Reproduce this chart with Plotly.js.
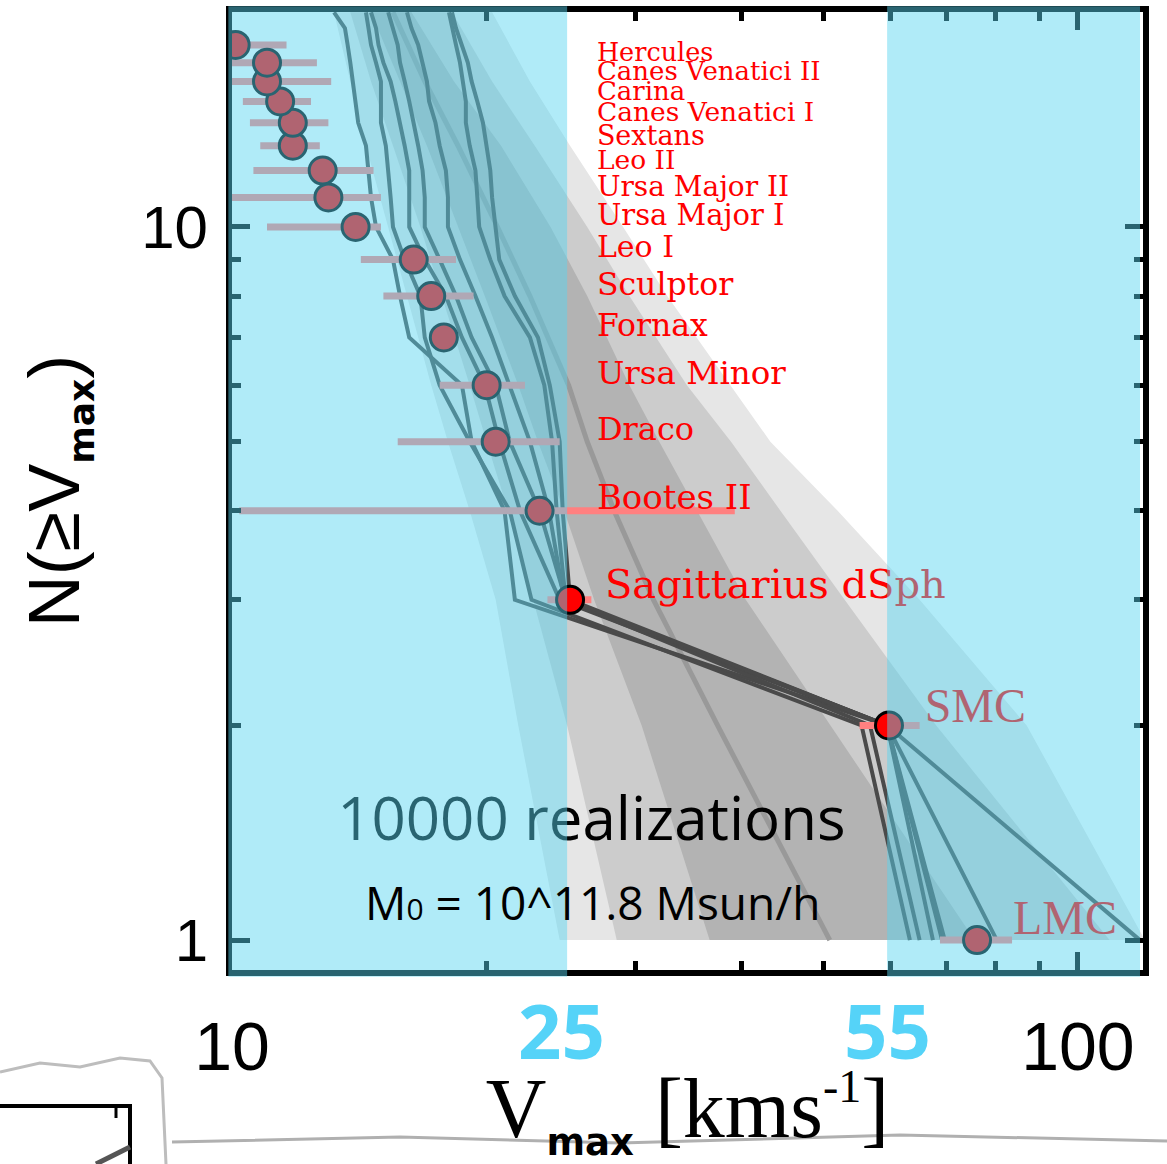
<!DOCTYPE html>
<html>
<head>
<meta charset="utf-8">
<script src="https://cdn.plot.ly/plotly-3.0.1.min.js"></script>
<style>
  html, body { margin: 0; padding: 0; background: #ffffff; }
  #chart { width: 1167px; height: 1164px; }
</style>
</head>
<body>
<div id="chart"></div>
<script>
// Milky Way satellites ranked by maximum circular velocity (km/s)
const rank = [1, 2, 3, 4, 5, 6, 7, 8, 9, 10, 11, 12, 13, 14, 15, 16, 17, 18];
const satNames = ['LMC', 'SMC', 'Sagittarius dSph', 'Bootes II', 'Draco', 'Ursa Minor', 'Fornax',
  'Sculptor', 'Leo I', 'Ursa Major I', 'Ursa Major II', 'Leo II', 'Sextans', 'Canes Venatici I',
  'Carina', 'Canes Venatici II', 'Hercules', ''];
const vmax     = [76.0, 59.8, 25.1, 23.1, 20.5, 20.0, 17.8, 17.2, 16.4, 14.0, 13.0, 12.8, 11.8, 11.8, 11.4, 11.0, 11.0, 10.1];
const vmaxLow  = [68.7, 55.2, 23.6, 10.2, 15.7, 17.6, 17.4, 15.1, 14.2, 11.0, 9.9, 10.6, 10.8, 10.5, 10.3, 9.9, 9.9, 9.9];
const vmaxHigh = [83.6, 65.0, 26.6, 39.3, 24.4, 22.2, 18.3, 19.3, 18.4, 15.0, 15.0, 14.7, 12.7, 13.0, 12.4, 13.1, 12.6, 11.6];

// Percentile envelopes of N(>=Vmax) over the subhalo realizations
const bandN    = [1, 2, 3, 4, 5, 6, 8, 10, 13, 16, 20];
const band3Lo  = [24.4, 21.8, 20.5, 19.1, 18.0, 17.2, 16.1, 15.3, 14.4, 13.8, 13.2];
const band3Hi  = [120, 87, 65, 52, 43.3, 38.8, 32.7, 29.0, 25.1, 22.5, 20.3];
const band2Lo  = [28.5, 24.9, 22.7, 21.2, 20.0, 19.1, 17.7, 16.7, 15.5, 14.6, 13.8];
const band2Hi  = [109, 68, 53, 44.5, 38.9, 34.5, 29.5, 26.3, 22.8, 20.3, 18.2];
const band1Lo  = [36.7, 30.5, 26.8, 24.7, 23.0, 21.8, 19.9, 18.5, 17.0, 15.8, 14.6];
const band1Hi  = [75.5, 51.0, 40.5, 35.5, 32.0, 29.5, 26.3, 23.8, 20.8, 18.3, 16.3];
const medianV  = [50.9, 37.5, 31.5, 28.3, 26.3, 25.0, 22.5, 20.6, 18.5, 16.9, 15.5];

// Individual realizations: Vmax of the N-th largest subhalo, N = 1..20
const realN = [1, 2, 3, 4, 5, 6, 7, 8, 9, 10, 11, 12, 13, 14, 15, 16, 17, 18, 19, 20];
const real1 = [69.1, 59.5, 21.6, 21.0, 19.2, 18.7, 16.2, 15.8, 15.5, 14.8, 14.6, 14.5, 14.4, 14.1, 14.0, 13.9, 13.8, 13.7, 13.6, 13.2];
const real2 = [63.3, 55.5, 22.6, 21.3, 19.1, 17.6, 16.9, 16.7, 16.0, 15.5, 15.4, 15.3, 15.2, 15.0, 15.0, 15.0, 14.8, 14.6, 14.5, 14.4];
const real3 = [67.4, 59.5, 24.4, 21.9, 20.7, 19.9, 18.7, 17.9, 16.9, 16.2, 16.2, 16.2, 16.0, 15.8, 15.6, 15.4, 15.1, 14.9, 14.8, 14.6];
const real4 = [80.2, 59.5, 24.8, 23.1, 21.3, 20.5, 19.2, 18.4, 17.6, 16.9, 16.9, 16.8, 16.6, 16.4, 16.2, 16.0, 15.8, 15.7, 15.5, 15.3];
const real5 = [65.0, 56.8, 24.7, 23.7, 22.5, 21.3, 20.3, 19.4, 18.6, 18.0, 18.0, 17.9, 17.6, 17.4, 17.1, 17.0, 16.8, 16.6, 16.3, 16.1];
const real6 = [118.4, 59.5, 24.8, 24.2, 23.9, 23.4, 22.5, 21.0, 20.2, 19.6, 19.5, 19.4, 19.1, 18.9, 18.9, 18.75, 18.6, 18.4, 18.2, 18.05];
const real7 = [69.6, 59.5, 25.1, 24.6, 24.4, 23.75, 23.0, 21.6, 20.7, 20.5, 20.3, 20.2, 20.0, 19.8, 19.5, 19.2, 19.0, 18.7, 18.4, 18.2];

// Unshaded velocity window: edges (km/s) and the marks written under them
const windowEdges  = [24.9, 59.5];
const windowLabels = ['25', '55'];
const xTicks = [10, 100];
const yTicks = [1, 10];

// ---- label styling (per rank) ----
const labelAnchorV = [83.8, 65.9, 27.6, 27.0, 27.0, 27.0, 27.0, 27.0, 27.0, 27.0, 27.0, 27.0, 27.0, 27.0, 27.0, 27.0, 27.0];
const labelLift    = [1.06, 1.05, 1.04, 1.035, 1.032, 1.03, 1.031, 1.03, 1.032, 1.029, 1.028, 1.028, 1.025, 1.026, 1.025, 1.027, 1.025];
const labelSize    = [48, 48, 40, 34, 32, 32.5, 31.5, 31.5, 30, 29, 28, 26.5, 27, 26.5, 26, 26, 25.5];

const xRange = [Math.log10(10), Math.log10(119.4)];
const yRange = [Math.log10(0.908), Math.log10(20.02)];
const xPaper = v => (Math.log10(v) - xRange[0]) / (xRange[1] - xRange[0]);

function bandTrace(lo, hi, color) {
  return {
    x: lo.concat(hi.slice().reverse()),
    y: bandN.concat(bandN.slice().reverse()),
    mode: 'lines', fill: 'toself', fillcolor: color,
    line: { width: 0 }, hoverinfo: 'skip'
  };
}

const traces = [];
traces.push(bandTrace(band3Lo, band3Hi, '#e6e6e6'));
traces.push(bandTrace(band2Lo, band2Hi, '#cccccc'));
traces.push(bandTrace(band1Lo, band1Hi, '#b3b3b3'));
traces.push({ x: medianV, y: bandN, mode: 'lines', line: { color: '#999999', width: 5 } });

[real1, real2, real3, real4, real5, real6, real7].forEach(r => {
  traces.push({ x: r, y: realN, mode: 'lines', line: { color: '#4a4a4a', width: 4 } });
});

// Observed satellites with velocity uncertainties
traces.push({
  x: vmax, y: rank, mode: 'markers',
  marker: { size: 27, color: '#ff0000', line: { color: '#000000', width: 3 } },
  error_x: {
    type: 'data', symmetric: false,
    array: vmax.map((v, i) => vmaxHigh[i] - v),
    arrayminus: vmax.map((v, i) => v - vmaxLow[i]),
    color: '#ff8080', thickness: 7, width: 0
  }
});

// Names next to each satellite
satNames.forEach((name, i) => {
  if (!name) return;
  const serifCaps = i < 2;
  traces.push({
    x: [labelAnchorV[i]], y: [rank[i] * labelLift[i]],
    mode: 'text', text: [name], textposition: 'middle right',
    textfont: {
      family: serifCaps ? 'Liberation Serif' : 'DejaVu Serif',
      size: labelSize[i], color: '#ff0000'
    },
    cliponaxis: false
  });
});

traces.push({
  x: [26.6], y: [1.45], mode: 'text', text: ['10000 realizations'],
  textposition: 'middle center',
  textfont: { family: 'Open Sans', size: 60, color: '#000000' }
});

const overlay = 'rgba(87,212,240,0.47)';
function px(x, y) { return [(x - 232) / 911, (970 - y) / 958]; }
function pathOf(pts) { return pts.map((p, k) => (k ? 'L' : 'M') + px(p[0], p[1]).join(',')).join(' '); }

const shapes = [
  // shaded velocity ranges outside the window
  { type: 'rect', xref: 'paper', yref: 'paper', x0: -0.004, x1: xPaper(windowEdges[0]), y0: -0.007, y1: 1.006,
    fillcolor: overlay, line: { width: 0 }, layer: 'above' },
  { type: 'rect', xref: 'paper', yref: 'paper', x0: xPaper(windowEdges[1]), x1: 0.9967, y0: -0.007, y1: 1.006,
    fillcolor: overlay, line: { width: 0 }, layer: 'above' },
  // torn-paper edges and the neighbouring panel fragment
  { type: 'path', xref: 'paper', yref: 'paper', layer: 'below',
    path: pathOf([[0, 1072], [40, 1063], [80, 1067], [120, 1058], [150, 1061], [162, 1078], [166, 1164]]),
    line: { color: '#bdbdbd', width: 3 } },
  { type: 'path', xref: 'paper', yref: 'paper', layer: 'below',
    path: pathOf([[172, 1142], [400, 1137], [620, 1143], [900, 1135], [1167, 1141]]),
    line: { color: '#b0b0b0', width: 3 } },
  { type: 'path', xref: 'paper', yref: 'paper', layer: 'below',
    path: pathOf([[0, 1106], [130, 1106], [130, 1164]]),
    line: { color: '#000000', width: 4 } },
  { type: 'path', xref: 'paper', yref: 'paper', layer: 'below',
    path: pathOf([[116, 1106], [116, 1118]]),
    line: { color: '#000000', width: 3 } },
  { type: 'path', xref: 'paper', yref: 'paper', layer: 'below',
    path: pathOf([[96, 1164], [130, 1147]]),
    line: { color: '#555555', width: 5 } }
];

const annotations = [
  { xref: 'paper', yref: 'paper', x: 0.396, y: 0.071, xanchor: 'center', yanchor: 'middle', showarrow: false,
    text: 'M<span style="font-size:30px">0</span> = 10^11.8 Msun/h',
    font: { family: 'Open Sans', size: 46, color: '#000000' } }
];
windowEdges.forEach((v, k) => {
  annotations.push({
    xref: 'paper', yref: 'paper', x: xPaper(v), y: -0.0626, xanchor: 'center', yanchor: 'middle',
    xshift: k === 0 ? -6 : 0, showarrow: false, text: windowLabels[k],
    font: { family: 'Open Sans', size: 76, color: '#55d3f8', weight: 700 }
  });
});

const axisCommon = {
  type: 'log', showgrid: false, zeroline: false,
  showline: true, linecolor: '#000000', linewidth: 6, mirror: 'ticks',
  ticks: 'inside', tickcolor: '#000000', tickwidth: 5, ticklen: 18,
  tickmode: 'array'
};

const layout = {
  width: 1167, height: 1164,
  margin: { l: 232, r: 24, t: 12, b: 194 },
  paper_bgcolor: '#ffffff', plot_bgcolor: '#ffffff',
  showlegend: false, hovermode: false,
  xaxis: Object.assign({}, axisCommon, {
    range: xRange,
    tickvals: xTicks, ticktext: xTicks.map(String),
    tickfont: { family: 'Liberation Sans', size: 68, color: '#000000' },
    ticklabelstandoff: 12,
    minor: { tickmode: 'array', tickvals: [20, 30, 40, 50, 60, 70, 80, 90], ticks: 'inside',
             ticklen: 9, tickwidth: 5, tickcolor: '#000000', showgrid: false },
    title: { text: 'V<sub><span style="font-family:DejaVu Sans;font-weight:bold;font-size:37px">max</span></sub> [kms<sup><span style="font-size:46px">-1</span></sup>]',
             font: { family: 'Liberation Serif', size: 84, color: '#000000' }, standoff: 6 }
  }),
  yaxis: Object.assign({}, axisCommon, {
    range: yRange,
    tickvals: yTicks, ticktext: yTicks.map(String),
    tickfont: { family: 'Liberation Sans', size: 60, color: '#000000' },
    ticklabelstandoff: 6,
    minor: { tickmode: 'array', tickvals: [2, 3, 4, 5, 6, 7, 8, 9, 20], ticks: 'inside',
             ticklen: 9, tickwidth: 5, tickcolor: '#000000', showgrid: false },
    title: { text: 'N(≥V<sub><span style="font-family:DejaVu Sans;font-weight:bold;font-size:36px">max</span></sub>)',
             font: { family: 'Liberation Sans', size: 72, color: '#000000' }, standoff: 40 }
  }),
  shapes: shapes,
  annotations: annotations
};

Plotly.newPlot('chart', traces, layout, { staticPlot: true, displayModeBar: false });
</script>
</body>
</html>
